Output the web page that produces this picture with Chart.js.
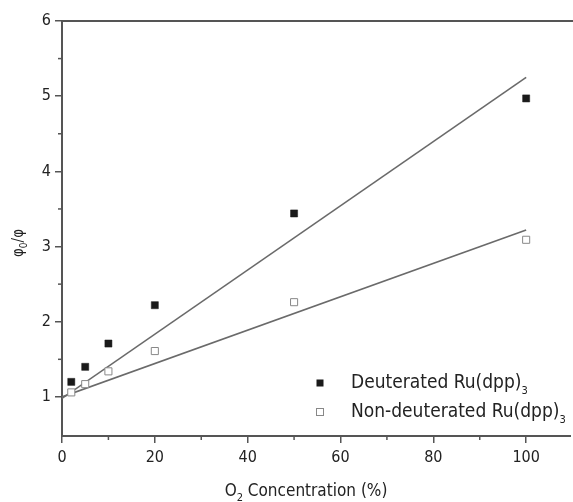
<!DOCTYPE html>
<html><head><meta charset="utf-8">
<script src="https://cdn.jsdelivr.net/npm/chart.js@4/dist/chart.umd.min.js"></script>
<style>html,body{margin:0;padding:0;background:#fff}#c{display:block}</style>
</head><body>
<canvas id="c" width="573" height="502"></canvas>
<script>
// ---- data ----
const concentrations = [2, 5, 10, 20, 50, 100];
const deuterated = [1.20, 1.40, 1.71, 2.22, 3.44, 4.97];
const nonDeuterated = [1.06, 1.17, 1.34, 1.61, 2.26, 3.09];
const fitX = [0, 100];
const deuteratedFit = [0.98, 5.25];
const nonDeuteratedFit = [1.00, 3.22];
const xTicks = [0, 20, 40, 60, 80, 100];
const xMinorTicks = [10, 30, 50, 70, 90];
const yTicks = [1, 2, 3, 4, 5, 6];
const yMinorTicks = [1.5, 2.5, 3.5, 4.5, 5.5];
const legendLabels = ['Deuterated Ru(dpp)', 'Non-deuterated Ru(dpp)'];

const FONT = '"DejaVu Sans Condensed", "DejaVu Sans", sans-serif';
const AXIS = '#555';

const pts = (xs, ys) => xs.map((x, i) => ({x, y: ys[i]}));

const decor = {
  id: 'decor',
  afterDraw(chart) {
    const ctx = chart.ctx, ca = chart.chartArea;
    const xs = chart.scales.x, ys = chart.scales.y;
    ctx.save();
    // top frame line and extension of the bottom axis line to the edge
    ctx.strokeStyle = AXIS; ctx.lineWidth = 2;
    ctx.beginPath(); ctx.moveTo(ca.left - 1, ca.top); ctx.lineTo(573, ca.top); ctx.stroke();
    ctx.beginPath(); ctx.moveTo(ca.right - 1, ca.bottom); ctx.lineTo(571, ca.bottom); ctx.stroke();
    // minor ticks
    ctx.lineWidth = 1.5;
    xMinorTicks.forEach(v => {
      const p = xs.getPixelForValue(v);
      ctx.beginPath(); ctx.moveTo(p, ca.bottom); ctx.lineTo(p, ca.bottom + 4); ctx.stroke();
    });
    yMinorTicks.forEach(v => {
      const p = ys.getPixelForValue(v);
      ctx.beginPath(); ctx.moveTo(ca.left, p); ctx.lineTo(ca.left - 4, p); ctx.stroke();
    });
    ctx.fillStyle = '#222';
    ctx.textBaseline = 'middle';
    ctx.textAlign = 'left';
    const drawPieces = (pieces, x, y, big, small, dy) => {
      let cx = x;
      pieces.forEach(([t, sub]) => {
        ctx.font = sub ? small : big;
        ctx.fillText(t, cx, sub ? y + dy : y);
        cx += ctx.measureText(t).width;
      });
    };
    const widthOf = (pieces, big, small) => pieces.reduce((w, [t, sub]) => { ctx.font = sub ? small : big; return w + ctx.measureText(t).width; }, 0);
    // x title
    const tb = '17px ' + FONT, ts = '11px ' + FONT;
    const xt = [['O', false], ['2', true], [' Concentration (%)', false]];
    drawPieces(xt, 306 - widthOf(xt, tb, ts) / 2, 492, tb, ts, 6);
    // y title
    const yb = '15px ' + FONT, ysm = '10px ' + FONT;
    const yt = [['\u03c6', false], ['0', true], ['/\u03c6', false]];
    ctx.save();
    ctx.translate(19, 243); ctx.rotate(-Math.PI / 2);
    drawPieces(yt, -widthOf(yt, yb, ysm) / 2, 0, yb, ysm, 5);
    ctx.restore();
    // legend
    const lx = 320, ly = [383, 412];
    ctx.fillStyle = '#1a1a1a';
    ctx.fillRect(lx - 3.5, ly[0] - 3.5, 7, 7);
    ctx.strokeStyle = '#888'; ctx.lineWidth = 1;
    ctx.fillStyle = '#fff';
    ctx.fillRect(lx - 3.5, ly[1] - 3.5, 7, 7);
    ctx.strokeRect(lx - 3.5, ly[1] - 3.5, 7, 7);
    ctx.fillStyle = '#222';
    const lb = '19px ' + FONT, ls = '11px ' + FONT;
    legendLabels.forEach((l, i) => drawPieces([[l, false], ['3', true]], 351, ly[i], lb, ls, 8));
    ctx.restore();
  }
};

new Chart(document.getElementById('c'), {
  type: 'scatter',
  data: {
    datasets: [
      { label: 'Deuterated fit', type: 'line', data: pts(fitX, deuteratedFit), borderColor: '#6a6a6a', borderWidth: 1.6, pointRadius: 0, fill: false, order: 2 },
      { label: 'Non-deuterated fit', type: 'line', data: pts(fitX, nonDeuteratedFit), borderColor: '#6a6a6a', borderWidth: 1.6, pointRadius: 0, fill: false, order: 2 },
      { label: legendLabels[0], data: pts(concentrations, deuterated), pointStyle: 'rect', pointRadius: 5, backgroundColor: '#1a1a1a', borderColor: '#1a1a1a', borderWidth: 0.5, order: 1 },
      { label: legendLabels[1], data: pts(concentrations, nonDeuterated), pointStyle: 'rect', pointRadius: 5, backgroundColor: '#fff', borderColor: '#888', borderWidth: 1, order: 1 }
    ]
  },
  options: {
    responsive: false,
    animation: false,
    layout: { padding: { top: 21, right: 1, left: 0, bottom: 0 } },
    plugins: { legend: { display: false }, tooltip: { enabled: false } },
    scales: {
      x: {
        type: 'linear', min: 0, max: 108.8,
        afterBuildTicks: s => { s.ticks = xTicks.map(v => ({value: v})); },
        afterFit: s => { s.height = 66; },
        grid: { drawOnChartArea: false, drawTicks: true, tickLength: 7, color: AXIS, lineWidth: 1.5 },
        border: { display: true, color: AXIS, width: 2 },
        ticks: { color: '#222', font: { family: FONT, size: 16 }, padding: 5, maxRotation: 0 }
      },
      y: {
        type: 'linear', min: 0.48, max: 6,
        afterBuildTicks: s => { s.ticks = yTicks.map(v => ({value: v})); },
        afterFit: s => { s.width = 62; },
        grid: { drawOnChartArea: false, drawTicks: true, tickLength: 7, color: AXIS, lineWidth: 1.5 },
        border: { display: true, color: AXIS, width: 2 },
        ticks: { color: '#222', font: { family: FONT, size: 16 }, padding: 4 }
      }
    }
  },
  plugins: [decor]
});
</script>
</body></html>
